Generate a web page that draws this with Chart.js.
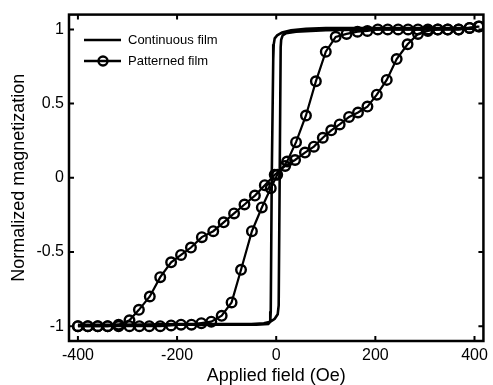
<!DOCTYPE html>
<html>
<head>
<meta charset="utf-8">
<script src="https://cdn.jsdelivr.net/npm/chart.js@4.4.1/dist/chart.umd.min.js"></script>
<style>
  html, body { margin: 0; padding: 0; background: #fff; }
  #wrap { width: 493px; height: 385px; }
</style>
</head>
<body>
<div id="wrap"><canvas id="loopChart" width="493" height="385"></canvas></div>
<script>
// ticks
const xTicks = [-400, -200, 0, 200, 400];
const yTicks = [-1, -0.5, 0, 0.5, 1];

// continuous film: ascending branch then descending branch
const contX = [-400, -300, -200, -100, -50, -25, -12, -3, 3, 5, 7, 9, 10, 13, 20, 40, 100, 200, 300, 400,
               400, 300, 200, 100, 60, 30, 12, 2, -3, -5, -6, -9, -11, -12, -16, -40, -100, -200, -300, -400];
const contY = [-0.99, -0.99, -0.985, -0.985, -0.985, -0.98, -0.97, -0.95, -0.92, -0.86, 0, 0.88, 0.93, 0.96, 0.975, 0.985, 0.995, 1.0, 1.0, 1.005,
               1.01, 1.01, 1.01, 1.01, 1.005, 0.995, 0.98, 0.96, 0.94, 0.9, 0.8, 0, -0.9, -0.97, -0.985, -0.99, -0.99, -0.99, -0.99, -0.99];

// patterned film, steep branch
const patStepX = [-400, -380, -360, -340, -318, -296, -276, -256, -234, -212, -192, -171, -151, -131, -110,
                  -90, -71, -49, -29, -11, 2, 22, 40, 60, 80, 100, 120, 142, 164, 184, 205, 225, 246, 266, 286, 306, 326, 346, 368, 390, 408];
const patStepY = [-1, -1, -1, -1, -1, -1, -1, -1, -1, -0.995, -0.99, -0.99, -0.98, -0.97, -0.93,
                  -0.84, -0.62, -0.36, -0.2, -0.07, 0.02, 0.11, 0.24, 0.42, 0.65, 0.85, 0.95, 0.97, 0.985, 0.99, 1.0, 1.0, 1.0, 1.0, 1.0, 1.0, 1.0, 1.0, 1.0, 1.01, 1.02];

// patterned film, slanted branch
const patSlopeX = [-400, -380, -360, -340, -318, -296, -277, -255, -234, -212, -192, -172, -150, -127, -106, -85, -64, -43, -23, -3,
                   18, 38, 58, 76, 94, 111, 128, 147, 165, 184, 203, 223, 243, 265, 286, 306, 326, 346, 368, 390, 410];
const patSlopeY = [-1, -1, -1, -1, -0.99, -0.96, -0.89, -0.8, -0.67, -0.57, -0.52, -0.47, -0.4, -0.36, -0.3, -0.24, -0.18, -0.12, -0.05, 0.02,
                   0.08, 0.12, 0.17, 0.21, 0.27, 0.32, 0.36, 0.41, 0.44, 0.48, 0.56, 0.66, 0.8, 0.9, 0.97, 0.99, 1.0, 1.0, 1.0, 1.01, 1.02];

const legendItems = ['Continuous film', 'Patterned film'];

const toPoints = (xs, ys) => xs.map((x, i) => ({ x: x, y: ys[i] }));

// frame, inward ticks and legend inside the plot
const framePlugin = {
    id: 'frame',
    afterDraw(chart) {
        const ctx = chart.ctx;
        const a = chart.chartArea;
        const sx = chart.scales.x;
        const sy = chart.scales.y;
        ctx.save();
        ctx.strokeStyle = '#000';
        ctx.lineWidth = 2;
        xTicks.forEach(v => {
            const px = sx.getPixelForValue(v);
            ctx.beginPath();
            ctx.moveTo(px, a.bottom); ctx.lineTo(px, a.bottom - 5);
            ctx.moveTo(px, a.top); ctx.lineTo(px, a.top + 5);
            ctx.stroke();
        });
        yTicks.forEach(v => {
            const py = sy.getPixelForValue(v);
            ctx.beginPath();
            ctx.moveTo(a.left, py); ctx.lineTo(a.left + 5, py);
            ctx.moveTo(a.right, py); ctx.lineTo(a.right - 5, py);
            ctx.stroke();
        });
        ctx.lineWidth = 2.5;
        ctx.strokeRect(a.left, a.top, a.right - a.left, a.bottom - a.top);

        // legend
        ctx.lineWidth = 2.5;
        ctx.beginPath();
        ctx.moveTo(84, 40); ctx.lineTo(121, 40);
        ctx.moveTo(84, 61); ctx.lineTo(121, 61);
        ctx.stroke();
        ctx.lineWidth = 2.4;
        ctx.beginPath();
        ctx.arc(103, 61, 4.5, 0, Math.PI * 2);
        ctx.stroke();
        ctx.fillStyle = '#000';
        ctx.font = '13px "Liberation Sans", Arial, sans-serif';
        ctx.textBaseline = 'middle';
        ctx.fillText(legendItems[0], 128, 40);
        ctx.fillText(legendItems[1], 128, 61);
        ctx.restore();
    }
};

const patStyle = {
    showLine: true,
    borderColor: '#000',
    borderWidth: 2.2,
    pointRadius: 4.8,
    pointBorderWidth: 2.4,
    pointBackgroundColor: 'rgba(0,0,0,0)',
    pointBorderColor: '#000',
    tension: 0
};

const ctx = document.getElementById('loopChart').getContext('2d');
new Chart(ctx, {
    type: 'scatter',
    data: {
        datasets: [
            {
                label: legendItems[0],
                data: toPoints(contX, contY),
                showLine: true,
                borderColor: '#000',
                borderWidth: 2.6,
                pointRadius: 0,
                tension: 0
            },
            Object.assign({ label: legendItems[1], data: toPoints(patStepX, patStepY) }, patStyle),
            Object.assign({ label: legendItems[1], data: toPoints(patSlopeX, patSlopeY) }, patStyle)
        ]
    },
    options: {
        responsive: false,
        animation: false,
        layout: { padding: { top: 10, right: 4, left: 0, bottom: 0 } },
        plugins: { legend: { display: false }, tooltip: { enabled: false } },
        scales: {
            x: {
                type: 'linear',
                min: -418,
                max: 418,
                afterBuildTicks: s => { s.ticks = xTicks.map(v => ({ value: v })); },
                afterFit: s => { s.height = 44; },
                grid: { display: false, drawTicks: false },
                border: { display: false },
                ticks: {
                    padding: 5,
                    color: '#000',
                    font: { family: '"Liberation Sans", Arial, sans-serif', size: 16 },
                    callback: v => String(v)
                },
                title: {
                    display: true,
                    text: 'Applied field (Oe)',
                    color: '#000',
                    font: { family: '"Liberation Sans", Arial, sans-serif', size: 18, lineHeight: 1 },
                    padding: { top: 0, bottom: 0 }
                }
            },
            y: {
                type: 'linear',
                min: -1.1,
                max: 1.1,
                afterBuildTicks: s => { s.ticks = yTicks.map(v => ({ value: v })); },
                afterFit: s => { s.width = 69; },
                grid: { display: false, drawTicks: false },
                border: { display: false },
                ticks: {
                    padding: 5,
                    color: '#000',
                    font: { family: '"Liberation Sans", Arial, sans-serif', size: 16 },
                    callback: v => String(v)
                },
                title: {
                    display: true,
                    text: 'Normalized magnetization',
                    color: '#000',
                    font: { family: '"Liberation Sans", Arial, sans-serif', size: 18, lineHeight: 1 },
                    padding: { top: 10, bottom: 0 }
                }
            }
        }
    },
    plugins: [framePlugin]
});
</script>
</body>
</html>
